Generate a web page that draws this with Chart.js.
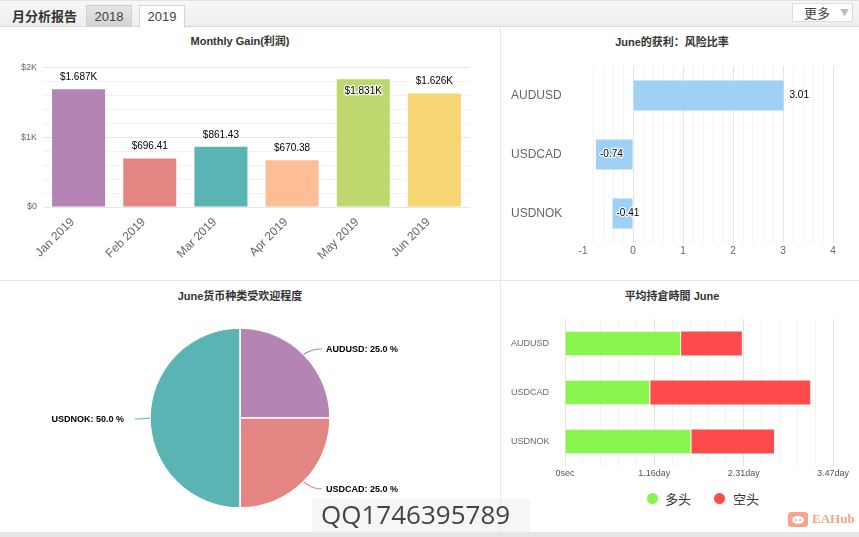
<!DOCTYPE html>
<html>
<head>
<meta charset="utf-8">
<script src="https://cdn.jsdelivr.net/npm/chart.js@4.4.1/dist/chart.umd.min.js"></script>
<style>
  html, body { margin:0; padding:0; background:#fff; }
  #page { position:relative; width:859px; height:537px; overflow:hidden; background:#fff;
    font-family:"Liberation Sans", Arial, "Noto Sans CJK SC", sans-serif; }
  .abs { position:absolute; }
  #header { left:0; top:0; width:859px; height:27px; background:linear-gradient(#f7f7f7,#eeeeee);
    border-bottom:1px solid #d9d9d9; border-top:1px solid #e2e2e2; box-sizing:border-box; }
  #htitle { left:12px; top:7px; font-size:13px; font-weight:bold; color:#333; font-family:"Noto Sans CJK SC", sans-serif; line-height:18px; }
  .tab { top:5px; width:46px; height:22px; box-sizing:border-box; font-size:13px; color:#444; text-align:center; line-height:21px; }
  #tab2018 { left:86px; background:linear-gradient(#e4e4e4,#d3d3d3); border:1px solid #cfcfcf; border-bottom:none; }
  #tab2019 { left:139px; height:23px; background:#fff; border:1px solid #d4d4d4; border-bottom:none; }
  #more { left:792px; top:3px; width:61px; height:19px; box-sizing:border-box; border:1px solid #dcdcdc; background:#fff;
    font-size:13px; color:#444; line-height:17px; font-family:"Noto Sans CJK SC", sans-serif; }
  #more span.t { position:absolute; left:11px; top:0; }
  #more span.a { position:absolute; left:47px; top:0; color:#bbb; font-size:9px; }
  .vline { background:#e6e6e6; width:1px; }
  .hline { background:#e6e6e6; height:1px; }
  .ctitle { font-size:11px; font-weight:bold; color:#333; text-align:center; white-space:nowrap; line-height:14px;
    font-family:"Liberation Sans", Arial, "Noto Sans CJK SC", sans-serif; }
  canvas { position:absolute; }
  .leg { font-size:13px; color:#333; font-family:"Noto Sans CJK SC", sans-serif; line-height:16px; }
  .dot { width:11px; height:11px; border-radius:50%; }
</style>
</head>
<body>
<div id="page">
  <div id="header" class="abs"></div>
  <div id="htitle" class="abs">月分析报告</div>
  <div id="tab2018" class="abs tab">2018</div>
  <div id="tab2019" class="abs tab">2019</div>
  <div id="more" class="abs"><span class="t">更多</span><span class="a">▼</span></div>

  <div class="abs vline" style="left:500px; top:28px; height:504px;"></div>
  <div class="abs hline" style="left:0; top:280px; width:859px;"></div>

  <div class="abs ctitle" style="left:140px; top:34px; width:200px;">Monthly Gain(利润)</div>
  <div class="abs ctitle" style="left:572px; top:35px; width:200px;">June的获利：风险比率</div>
  <div class="abs ctitle" style="left:140px; top:289px; width:200px;">June货币种类受欢迎程度</div>
  <div class="abs ctitle" style="left:572px; top:289px; width:200px;">平均持倉時間 June</div>

  <canvas id="gain" width="480" height="211" style="left:0; top:56px; width:480px; height:211px;"></canvas>
  <canvas id="risk" width="334" height="210" style="left:511px; top:55px; width:334px; height:210px;"></canvas>
  <canvas id="pop" width="480" height="216" style="left:0; top:310px; width:480px; height:216px;"></canvas>
  <canvas id="hold" width="347" height="177" style="left:511px; top:309px; width:347px; height:177px;"></canvas>

  <div class="abs dot" style="left:647px; top:493px; background:#88f54f;"></div>
  <div class="abs leg" style="left:665px; top:491px;">多头</div>
  <div class="abs dot" style="left:714px; top:493px; background:#ff4b4b;"></div>
  <div class="abs leg" style="left:733px; top:491px;">空头</div>

  <div class="abs" style="left:0; top:532px; width:859px; height:5px; background:#e6e6e6;"></div>
  <div class="abs" style="left:312px; top:499px; width:218px; height:33px; background:rgba(240,240,240,0.6);"></div>
  <div class="abs" style="left:321px; top:496px; font-size:26px; color:#444; font-family:'Open Sans', sans-serif; line-height:36px;">QQ1746395789</div>

  <div class="abs" style="left:788px; top:512px; width:20px; height:15px; background:#f8a48a; border-radius:3px;">
    <div class="abs" style="left:4px; top:4px; width:12px; height:8px; background:#fff; border-radius:50%;"></div>
    <div class="abs" style="left:7px; top:7px; width:2px; height:2px; background:#f8a48a; border-radius:50%;"></div>
    <div class="abs" style="left:11px; top:7px; width:2px; height:2px; background:#f8a48a; border-radius:50%;"></div>
  </div>
  <div class="abs" style="left:812px; top:511px; font-size:13px; font-weight:bold; color:#f6a286; font-family:'Liberation Serif', serif; line-height:16px;">EAHub</div>
</div>

<script>
// ---------- data ----------
const months = ['Jan 2019', 'Feb 2019', 'Mar 2019', 'Apr 2019', 'May 2019', 'Jun 2019'];
const monthlyGain = [1687, 696.41, 861.43, 670.38, 1831, 1626];
const monthColors = ['#b484b4', '#e38683', '#5bb4b4', '#febe95', '#bfd86e', '#f7d572'];

const riskPairs = ['AUDUSD', 'USDCAD', 'USDNOK'];
const riskRatio = [3.01, -0.74, -0.41];

const popPairs = ['AUDUSD', 'USDCAD', 'USDNOK'];
const popShare = [25.0, 25.0, 50.0];
const popColors = ['#b484b4', '#e38683', '#5bb4b4'];

const holdPairs = ['AUDUSD', 'USDCAD', 'USDNOK'];
const holdLongSec = [130000, 95500, 141500];   // 多头
const holdShortSec = [68000, 179000, 92500];   // 空头
const holdSeries = ['多头', '空头'];
const holdColors = ['#88f54f', '#ff4b4b'];

// ---------- helpers ----------
const FF = '"Liberation Sans", Arial, "Noto Sans CJK SC", sans-serif';
Chart.defaults.font.family = FF;
Chart.defaults.animation = false;
Chart.defaults.plugins.legend.display = false;
Chart.defaults.plugins.tooltip.enabled = false;

function outlined(ctx, text, x, y, align, font) {
  ctx.save();
  ctx.font = font;
  ctx.textAlign = align;
  ctx.textBaseline = 'middle';
  ctx.lineJoin = 'round';
  ctx.lineWidth = 2.5;
  ctx.strokeStyle = 'rgba(255,255,255,0.9)';
  ctx.strokeText(text, x, y);
  ctx.fillStyle = '#000';
  ctx.fillText(text, x, y);
  ctx.restore();
}
const nearInt = v => Math.abs(v - Math.round(v)) < 1e-6;

// ---------- chart 1: monthly gain ----------
const gainLabels = {
  id: 'gainLabels',
  afterDatasetsDraw(chart) {
    const ctx = chart.ctx;
    const meta = chart.getDatasetMeta(0);
    meta.data.forEach((bar, i) => {
      const v = monthlyGain[i];
      const txt = v >= 1000 ? '$' + (v / 1000).toFixed(3) + 'K' : '$' + v.toFixed(2);
      let y = bar.y - 12;
      if (bar.y - 20 < chart.chartArea.top) y = bar.y + 12;
      outlined(ctx, txt, bar.x, y, 'center', '10px ' + FF);
    });
  }
};
new Chart(document.getElementById('gain'), {
  type: 'bar',
  data: { labels: months, datasets: [{ data: monthlyGain, backgroundColor: monthColors, borderWidth: 0,
    categoryPercentage: 1, barPercentage: 0.745 }] },
  options: {
    responsive: false,
    layout: { padding: { top: 10, right: 10, left: 0, bottom: 0 } },
    scales: {
      x: {
        grid: { display: false }, border: { display: false },
        ticks: { color: '#666', font: { size: 12 }, minRotation: 45, maxRotation: 45, padding: 0, labelOffset: -6 },
        afterFit(s) { s.height = 60; }
      },
      y: {
        min: 0, max: 2000,
        border: { display: false },
        grid: { drawTicks: false, color: c => (c.tick && c.tick.value % 1000 === 0) ? '#e6e6e6' : '#f3f3f3' },
        ticks: { stepSize: 200, padding: 6, color: '#666', font: { size: 9 },
          callback: v => v % 1000 === 0 ? (v === 0 ? '$0' : '$' + (v / 1000) + 'K') : '' },
        afterFit(s) { s.width = 43; }
      }
    }
  },
  plugins: [gainLabels]
});

// ---------- chart 2: risk ratio ----------
const riskLabels = {
  id: 'riskLabels',
  afterDatasetsDraw(chart) {
    const ctx = chart.ctx;
    chart.getDatasetMeta(0).data.forEach((bar, i) => {
      const v = riskRatio[i];
      const x = v >= 0 ? bar.x + 6 : bar.x + 4;
      outlined(ctx, v.toFixed(2), x, bar.y, 'left', '10px ' + FF);
    });
  }
};
new Chart(document.getElementById('risk'), {
  type: 'bar',
  data: { labels: riskPairs, datasets: [{ data: riskRatio, backgroundColor: '#9fd0f5', borderWidth: 0,
    categoryPercentage: 1, barPercentage: 0.51 }] },
  options: {
    responsive: false,
    indexAxis: 'y',
    layout: { padding: { top: 11, right: 12, left: 0, bottom: 0 } },
    scales: {
      x: {
        min: -1, max: 4,
        border: { display: false },
        grid: { drawTicks: false, color: c => {
          const v = c.tick ? c.tick.value : 0;
          if (Math.abs(v + 1) < 1e-6) return 'rgba(0,0,0,0)';
          return nearInt(v) ? '#e4e4e4' : '#f3f3f3';
        } },
        ticks: { stepSize: 0.2, autoSkip: false, maxRotation: 0, padding: 2, color: '#666', font: { size: 10 },
          callback: v => nearInt(v) ? String(Math.round(v)) : '' },
        afterFit(s) { s.height = 22; }
      },
      y: {
        border: { display: false }, grid: { display: false },
        ticks: { crossAlign: 'far', color: '#666', font: { size: 12 } },
        afterFit(s) { s.width = 72; }
      }
    }
  },
  plugins: [riskLabels]
});

// ---------- chart 3: popularity pie ----------
const pieLabels = {
  id: 'pieLabels',
  afterDatasetsDraw(chart) {
    const ctx = chart.ctx;
    chart.getDatasetMeta(0).data.forEach((arc, i) => {
      const cx = arc.x, cy = arc.y, r = arc.outerRadius;
      const mid = (arc.startAngle + arc.endAngle) / 2;
      const ex = cx + r * Math.cos(mid), ey = cy + r * Math.sin(mid);
      const right = Math.cos(mid) >= -1e-6;
      const ty = cy + 99 * Math.sin(mid) + 2;
      const endX = right ? cx + 82 : cx - 105;
      ctx.save();
      ctx.strokeStyle = popColors[i];
      ctx.lineWidth = 1.2;
      ctx.beginPath();
      ctx.moveTo(ex, ey);
      ctx.quadraticCurveTo(right ? ex + 8 : ex - 8, ty - 1, endX, ty - 1);
      ctx.stroke();
      ctx.restore();
      const txt = popPairs[i] + ': ' + popShare[i].toFixed(1) + ' %';
      ctx.save();
      ctx.font = 'bold 9px ' + FF;
      ctx.fillStyle = '#000';
      ctx.textBaseline = 'middle';
      ctx.textAlign = right ? 'left' : 'right';
      ctx.fillText(txt, right ? cx + 86 : cx - 116, ty);
      ctx.restore();
    });
  }
};
new Chart(document.getElementById('pop'), {
  type: 'pie',
  data: { labels: popPairs, datasets: [{ data: popShare, backgroundColor: popColors, borderColor: '#fff',
    borderWidth: 1.5, hoverOffset: 0 }] },
  options: { responsive: false, radius: 90 },
  plugins: [pieLabels]
});

// ---------- chart 4: average holding time ----------
function fmtDur(v) {
  if (v === 0) return '0sec';
  return (v / 86400).toFixed(2) + 'day';
}
new Chart(document.getElementById('hold'), {
  type: 'bar',
  data: { labels: holdPairs, datasets: [
    { label: holdSeries[0], data: holdLongSec, backgroundColor: holdColors[0], borderColor: '#fff',
      borderWidth: { right: 1, left: 0, top: 0, bottom: 0 }, borderSkipped: false, categoryPercentage: 1, barPercentage: 0.49 },
    { label: holdSeries[1], data: holdShortSec, backgroundColor: holdColors[1], borderWidth: 0,
      categoryPercentage: 1, barPercentage: 0.49 }
  ] },
  options: {
    responsive: false,
    indexAxis: 'y',
    layout: { padding: { top: 10, right: 25, left: 0, bottom: 0 } },
    scales: {
      x: {
        stacked: true, min: 0, max: 300000,
        border: { display: false },
        grid: { drawTicks: false, color: c => (c.tick && c.tick.value % 100000 === 0) ? '#e4e4e4' : '#f3f3f3' },
        ticks: { stepSize: 20000, autoSkip: false, maxRotation: 0, padding: 2, color: '#555', font: { size: 9 },
          callback: v => v % 100000 === 0 ? fmtDur(v) : '' },
        afterFit(s) { s.height = 20; }
      },
      y: {
        stacked: true,
        border: { display: false }, grid: { display: false },
        ticks: { crossAlign: 'far', color: '#666', font: { size: 9 } },
        afterFit(s) { s.width = 54; }
      }
    }
  }
});
</script>
</body>
</html>
